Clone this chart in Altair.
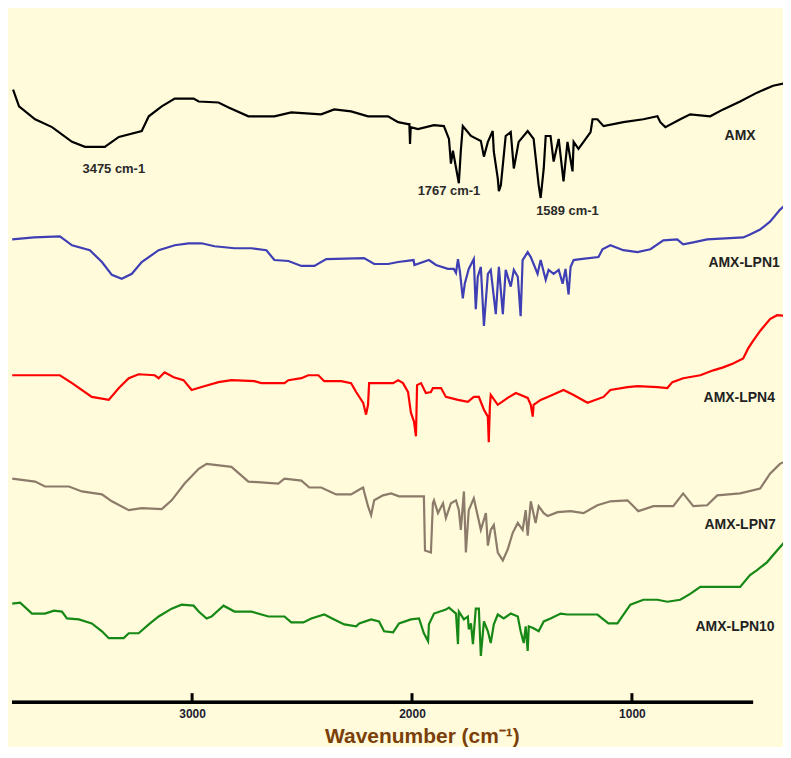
import altair as alt
import pandas as pd

series_names = ["AMX", "AMX-LPN1", "AMX-LPN4", "AMX-LPN7", "AMX-LPN10"]
series_colors = ["#000000", "#3F3FB5", "#FF0000", "#8C7B6A", "#168816"]

amx_wn = [3814, 3787, 3714, 3637, 3546, 3487, 3397, 3333, 3229, 3197, 3138, 3079, 2993, 2970, 2880, 2834,
          2744, 2626, 2549, 2413, 2354, 2277, 2200, 2109, 2063, 2018, 2012, 2009, 2006, 1973, 1900, 1855,
          1832, 1823, 1814, 1787, 1778, 1769, 1732, 1687, 1673, 1655, 1633, 1628, 1610, 1605, 1596, 1574,
          1551, 1537, 1515, 1474, 1447, 1424, 1415, 1401, 1392, 1370, 1356, 1333, 1311, 1293, 1270, 1265,
          1243, 1188, 1179, 1157, 1129, 1039, 948, 884, 871, 848, 780, 735, 644, 585, 508, 431, 358, 299]
amx_t = [622, 605, 592, 584, 569, 564, 564, 574, 580, 595, 605, 613, 613, 610, 609, 604,
         595, 595, 599, 597, 602, 600, 595, 595, 589, 587, 587, 567, 584, 582, 586, 585,
         572, 547, 560, 527, 560, 585, 575, 570, 554, 569, 580, 559, 532, 519, 525, 575,
         579, 542, 569, 580, 572, 525, 512, 542, 575, 575, 549, 572, 529, 569, 539, 569,
         562, 579, 592, 592, 585, 589, 592, 595, 589, 584, 592, 597, 595, 602, 610, 619, 626, 629]

lpn1_wn = [3818, 3719, 3601, 3546, 3465, 3410, 3365, 3320, 3274, 3229, 3152, 3079, 3016, 2957, 2898, 2807,
           2730, 2662, 2626, 2562, 2503, 2444, 2390, 2218, 2172, 2109, 2063, 1993, 1989, 1923, 1891, 1837,
           1810, 1800, 1791, 1782, 1769, 1760, 1742, 1719, 1710, 1701, 1687, 1673, 1655, 1642, 1619, 1605,
           1587, 1574, 1551, 1537, 1519, 1506, 1497, 1474, 1460, 1447, 1429, 1415, 1392, 1379, 1356, 1333,
           1315, 1302, 1288, 1279, 1265, 1234, 1152, 1134, 1098, 1039, 975, 916, 857, 794, 767, 721,
           658, 494, 463, 417, 372, 327, 277]
lpn1_t = [470, 472, 473, 464, 459, 447, 434, 430, 435, 447, 459, 464, 466, 466, 463, 461,
          461, 459, 449, 448, 443, 443, 450, 451, 445, 445, 447, 449, 444, 449, 444, 440,
          440, 436, 450, 437, 410, 425, 440, 450, 399, 432, 442, 382, 435, 439, 394, 442,
          394, 439, 422, 439, 432, 392, 449, 457, 452, 445, 435, 449, 429, 439, 435, 439,
          425, 440, 414, 442, 449, 450, 452, 460, 464, 459, 457, 460, 469, 470, 465, 467,
          470, 472, 475, 480, 488, 500, 510]

lpn4_wn = [3818, 3601, 3546, 3456, 3379, 3333, 3288, 3243, 3170, 3152, 3125, 3084, 3039, 3002, 2957, 2880,
           2821, 2717, 2685, 2580, 2562, 2503, 2472, 2426, 2399, 2322, 2277, 2254, 2222, 2209, 2200, 2195,
           2086, 2063, 2041, 2018, 2005, 1991, 1982, 1977, 1959, 1937, 1914, 1905, 1868, 1846, 1791, 1746,
           1719, 1696, 1673, 1655, 1651, 1646, 1642, 1610, 1565, 1528, 1474, 1460, 1451, 1447, 1415, 1383,
           1311, 1265, 1202, 1129, 1098, 1020, 975, 884, 839, 816, 767, 689, 630, 585, 540, 494,
           472, 449, 417, 372, 340, 281]
lpn4_t = [332, 332, 324, 310, 307, 319, 329, 333, 332, 329, 335, 330, 327, 317, 320, 325,
          327, 326, 324, 324, 327, 329, 332, 332, 326, 326, 324, 315, 304, 292, 302, 324,
          324, 327, 324, 315, 294, 285, 270, 322, 324, 314, 315, 319, 319, 310, 307, 305,
          310, 310, 297, 290, 264, 300, 312, 302, 309, 314, 309, 302, 290, 302, 307, 310,
          317, 312, 304, 310, 317, 320, 321, 320, 319, 325, 329, 332, 337, 340, 344, 349,
          359, 367, 377, 389, 393, 392]

lpn7_wn = [3818, 3714, 3669, 3560, 3501, 3410, 3365, 3288, 3229, 3138, 3093, 3034, 2970, 2934, 2821, 2744,
           2608, 2580, 2503, 2467, 2413, 2345, 2277, 2231, 2222, 2218, 2200, 2186, 2172, 2132, 2095, 2059,
           1946, 1941, 1914, 1905, 1900, 1882, 1859, 1846, 1823, 1800, 1787, 1778, 1764, 1755, 1742, 1719,
           1701, 1687, 1664, 1655, 1642, 1628, 1610, 1587, 1565, 1542, 1519, 1497, 1483, 1474, 1460, 1438,
           1424, 1401, 1383, 1338, 1279, 1220, 1157, 1098, 1020, 971, 902, 812, 767, 721, 658, 612,
           508, 417, 372, 327, 281]
lpn7_t = [227, 224, 219, 219, 214, 211, 204, 195, 197, 196, 205, 222, 237, 242, 239, 224,
          222, 227, 225, 218, 218, 211, 211, 217, 218, 214, 199, 190, 205, 210, 212, 209,
          209, 154, 152, 202, 205, 192, 202, 187, 202, 205, 195, 175, 214, 152, 195, 207,
          189, 175, 192, 159, 175, 180, 152, 144, 155, 172, 182, 175, 195, 169, 204, 182,
          199, 192, 189, 193, 194, 192, 200, 204, 205, 194, 199, 199, 212, 199, 200, 210,
          212, 217, 232, 242, 247]

lpn10_wn = [3818, 3782, 3728, 3669, 3628, 3592, 3569, 3515, 3456, 3410, 3379, 3311, 3288, 3243, 3197, 3152,
            3093, 3048, 2993, 2970, 2934, 2912, 2857, 2807, 2730, 2653, 2580, 2549, 2494, 2458, 2399, 2354,
            2308, 2254, 2240, 2186, 2150, 2127, 2086, 2059, 2005, 1968, 1946, 1927, 1923, 1900, 1846, 1832,
            1800, 1791, 1787, 1764, 1746, 1742, 1732, 1723, 1710, 1696, 1687, 1673, 1655, 1642, 1628, 1610,
            1583, 1551, 1519, 1506, 1492, 1483, 1474, 1469, 1447, 1424, 1401, 1370, 1324, 1293, 1188, 1157,
            1107, 1066, 1007, 948, 884, 839, 780, 735, 689, 508, 463, 431, 386, 340, 281]
lpn10_t = [100, 101, 90, 90, 93, 92, 85, 84, 80, 72, 65, 65, 70, 70, 79, 87,
           95, 99, 98, 92, 85, 87, 98, 92, 92, 87, 87, 81, 81, 85, 89, 84,
           79, 77, 80, 84, 82, 72, 71, 80, 84, 85, 70, 62, 79, 90, 94, 96,
           90, 59, 92, 84, 87, 74, 80, 59, 95, 95, 47, 82, 72, 60, 79, 89,
           85, 90, 87, 72, 60, 77, 52, 77, 75, 72, 82, 85, 90, 89, 89, 89,
           80, 80, 99, 104, 104, 102, 104, 110, 117, 117, 129, 134, 142, 154, 169]

label_wn = [508, 490, 512, 508, 531]
label_t = [575, 446, 309, 180, 76]

peak_text = ["3475 cm-1", "1767 cm-1", "1589 cm-1"]
peak_wn = [3356, 1832, 1293]
peak_t = [541, 519, 499]

tick_values = [3000, 2000, 1000]

# ---- build tables ----
rows = []
for name, wn, t in [("AMX", amx_wn, amx_t), ("AMX-LPN1", lpn1_wn, lpn1_t),
                    ("AMX-LPN4", lpn4_wn, lpn4_t), ("AMX-LPN7", lpn7_wn, lpn7_t),
                    ("AMX-LPN10", lpn10_wn, lpn10_t)]:
    for i, (a, b) in enumerate(zip(wn, t)):
        rows.append({"series": name, "wn": a, "t": b, "idx": i})
spec = pd.DataFrame(rows)
labels = pd.DataFrame({"series": series_names, "wn": label_wn, "t": label_t})
peaks = pd.DataFrame({"text": peak_text, "wn": peak_wn, "t": peak_t})
ticks = pd.DataFrame({"wn": tick_values})

W, H = 773, 695

xscale = alt.Scale(domain=[313, 3819], reverse=True, nice=False, zero=False)
yscale = alt.Scale(domain=[0, 704], nice=False, zero=False)
xaxis = alt.Axis(values=tick_values, domain=False, ticks=False, grid=False, format="d",
                 labelFont="Liberation Sans", labelFontSize=12, labelFontWeight="bold",
                 labelColor="#1c1c30", labelPadding=6,
                 title="Wavenumber (cm⁻¹)", titleFont="Liberation Sans", titleFontSize=21,
                 titleFontWeight="bold", titleColor="#7B3F0A", titleX=411, titleY=40,
                 titleBaseline="alphabetic")
X = alt.X("wn:Q", scale=xscale, axis=xaxis)
Y = alt.Y("t:Q", scale=yscale, axis=None)

lines = alt.Chart(spec).mark_line(strokeWidth=2.2, clip=True, interpolate="linear").encode(
    x=X, y=Y,
    color=alt.Color("series:N", scale=alt.Scale(domain=series_names, range=series_colors), legend=None),
    detail="series:N",
    order="idx:Q",
)

series_labels = alt.Chart(labels).mark_text(font="Liberation Sans", fontSize=14, fontWeight="bold",
                                            color="#222222", align="center", baseline="middle").encode(
    x=X, y=Y, text="series:N")

peak_labels = alt.Chart(peaks).mark_text(font="Liberation Sans", fontSize=13, fontWeight="bold",
                                         color="#2a2a2a", align="center", baseline="middle").encode(
    x=X, y=Y, text="text:N")

axis_line = alt.Chart(ticks).mark_rule(color="#000000", strokeWidth=3).encode(
    x=alt.value(0), x2=alt.value(743), y=alt.value(H))

tick_marks = alt.Chart(ticks).mark_rule(color="#000000", strokeWidth=3).encode(
    x=X, y=alt.value(H - 9), y2=alt.value(H))

chart = alt.layer(lines, series_labels, peak_labels, axis_line, tick_marks).properties(
    width=W, height=H,
    padding={"left": 2, "top": 0, "right": 0, "bottom": 0},
    background="#FFFBDB",
).configure_view(stroke=None)

chart.save("out.html", embed_options={"renderer": "svg", "actions": False})
